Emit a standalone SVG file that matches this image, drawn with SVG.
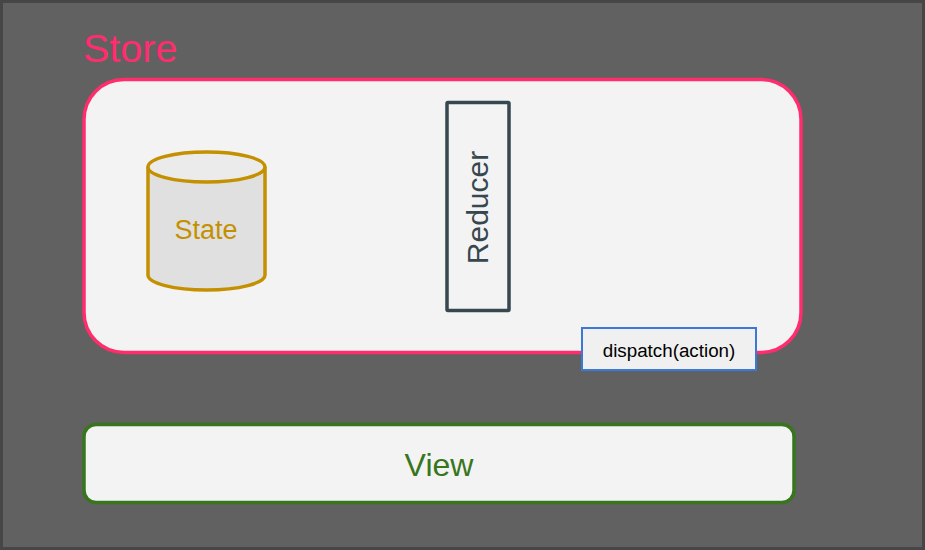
<svg xmlns="http://www.w3.org/2000/svg" width="925" height="550" viewBox="0 0 925 550">
<style>
text{font-family:"Liberation Sans",Arial,sans-serif}
</style>
<rect x="1.5" y="1.5" width="922" height="547" fill="#616161" stroke="#464646" stroke-width="3"/>
<g id="store">
<text x="83" y="62" font-size="39.5" fill="#FF2D6E">Store</text>
<rect x="84" y="79.5" width="717" height="273" rx="40" fill="#f3f3f3" stroke="#FF2D6E" stroke-width="3.5"/>
</g>
<g id="state">
<path d="M148 167 V275 A58.5 15 0 0 0 265 275 V167" fill="#e0e0e0" stroke="#C49000" stroke-width="3.5"/>
<ellipse cx="206.5" cy="167" rx="58.5" ry="15" fill="#ebebeb" stroke="#C49000" stroke-width="3.5"/>
<text x="206" y="239" font-size="27" fill="#C49000" text-anchor="middle">State</text>
</g>
<g id="reducer">
<rect x="447" y="102.5" width="62" height="208" rx="1" fill="#f3f3f3" stroke="#37474F" stroke-width="3.5"/>
<text transform="translate(488,207.5) rotate(-90)" font-size="30" fill="#37474F" text-anchor="middle">Reducer</text>
</g>
<g id="dispatch">
<rect x="582" y="328" width="174" height="42" fill="#f0f0f0" stroke="#3C78D8" stroke-width="2"/>
<text x="669" y="357" font-size="18.8" fill="#000" text-anchor="middle">dispatch(action)</text>
</g>
<g id="view">
<rect x="84" y="424.5" width="710" height="78" rx="12" fill="#f3f3f3" stroke="#38761D" stroke-width="3.5"/>
<text x="439" y="476" font-size="32" fill="#38761D" text-anchor="middle">View</text>
</g>
<g id="connectors"></g>
</svg>
